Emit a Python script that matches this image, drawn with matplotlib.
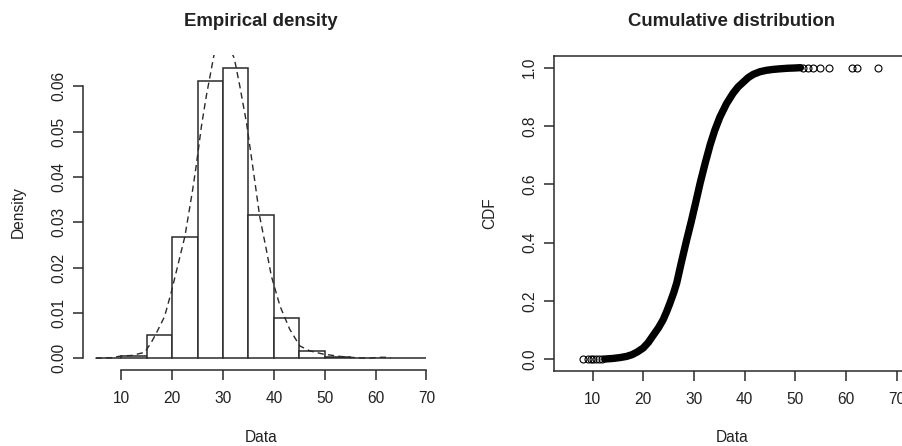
import numpy as np
import matplotlib
matplotlib.use("Agg")
import matplotlib.pyplot as plt

plt.rcParams['font.family'] = ['Liberation Sans', 'DejaVu Sans']

# histogram (density, bins of width 5)
bin_edges = [5, 10, 15, 20, 25, 30, 35, 40, 45, 50, 55, 60, 65, 70]
hist_density = [0.0001, 0.0004, 0.0052, 0.0267, 0.0612, 0.0641, 0.0316,
                0.0088, 0.0015, 0.0002, 0.00005, 0.0001, 0.00005]

# dashed empirical density curve
dens_x = [4.9, 8.0, 10.0, 12.0, 14.6, 15.9, 17.0, 18.5, 19.8, 21.0, 22.5, 24.0, 24.8,
          25.75, 26.7, 28.2, 30.2, 32.2, 33.3, 34.6, 36.0, 37.2, 38.5, 39.5, 41.2,
          43.1, 45.1, 47.1, 49.7, 53.0, 56.3, 58.5, 60.8, 62.2, 63.0]
dens_y = [0.0000, 0.0001, 0.0005, 0.0006, 0.0013, 0.0035, 0.0058, 0.0092, 0.0145,
          0.0200, 0.0269, 0.0370, 0.0431, 0.0512, 0.0578, 0.0668, 0.0710, 0.0662,
          0.0600, 0.0520, 0.0410, 0.0313, 0.0240, 0.0181, 0.0115, 0.0064, 0.0027,
          0.0016, 0.0009, 0.0004, 0.0001, 0.0000, 0.0002, 0.0002, 0.0000]

# CDF: dense body and the isolated points at both tails
cdf_x = [12.4, 14.0, 15.4, 16.7, 17.8, 18.8, 20.0, 21.0, 21.95, 23.0, 23.9, 24.6,
         25.25, 26.0, 26.6, 27.55, 28.5, 29.5, 30.4, 31.2, 32.2, 33.2, 34.1, 35.1,
         36.4, 37.7, 38.7, 39.7, 40.7, 41.7, 43.0, 44.3, 45.6, 46.9, 48.5, 50.0, 51.0]
cdf_y = [0.001, 0.003, 0.006, 0.010, 0.016, 0.025, 0.039, 0.058, 0.082, 0.108,
         0.135, 0.163, 0.192, 0.228, 0.262, 0.335, 0.405, 0.475, 0.542, 0.603,
         0.672, 0.736, 0.785, 0.830, 0.876, 0.912, 0.934, 0.950, 0.966, 0.977,
         0.986, 0.991, 0.994, 0.996, 0.998, 0.999, 1.0]
tail_x = [8.1, 9.1, 9.6, 10.1, 10.7, 11.3, 11.9,
          51.5, 52.5, 53.5, 54.8, 56.7, 61.1, 62.2, 66.2]
tail_y = [0.0, 0.0, 0.0, 0.0005, 0.0005, 0.001, 0.001,
          0.9992, 0.9994, 0.9996, 0.9997, 0.9998, 0.9999, 0.9999, 1.0]

W, H = 903, 446
fig = plt.figure(figsize=(W / 100, H / 100), dpi=100)
fig.patch.set_facecolor('white')

ink = '#2a2a2a'
fs = 11.2


def fx(px):
    return px / W


def fy(py):
    return 1 - py / H


# ---------------- left: empirical density ----------------
ax1 = fig.add_axes([fx(82.7), fy(370), fx(439.7 - 82.7), (370 - 54.5) / H])
widths = np.diff(bin_edges)
ax1.bar(bin_edges[:-1], hist_density, width=widths, align='edge',
        facecolor='white', edgecolor=ink, linewidth=1.1)
ax1.plot(dens_x, dens_y, color=ink, linestyle=(0, (4.5, 3)), linewidth=1.0)
ax1.set_xlim(2.4, 72.6)
ax1.set_ylim(-0.0026, 0.0670)
ax1.set_xticks([10, 20, 30, 40, 50, 60, 70])
ax1.set_yticks([0.00, 0.01, 0.02, 0.03, 0.04, 0.05, 0.06])
ax1.set_yticklabels(['0.00', '0.01', '0.02', '0.03', '0.04', '0.05', '0.06'],
                    rotation=90, va='center')
for s in ['top', 'right']:
    ax1.spines[s].set_visible(False)
ax1.spines['bottom'].set_bounds(10, 70)
ax1.spines['left'].set_bounds(0, 0.06)

# ---------------- right: cumulative distribution ----------------
ax2 = fig.add_axes([fx(554), fy(371), fx(910 - 554), (371 - 56) / H])
ax2.plot(cdf_x, cdf_y, color='black', linewidth=5.3, solid_capstyle='round',
         solid_joinstyle='round')
ax2.plot(tail_x, tail_y, linestyle='none', marker='o', markersize=5,
         markerfacecolor='none', markeredgecolor='black', markeredgewidth=0.8)
ax2.set_xlim(2.4, 72.6)
ax2.set_ylim(-0.04, 1.04)
ax2.set_xticks([10, 20, 30, 40, 50, 60, 70])
ax2.set_yticks([0.0, 0.2, 0.4, 0.6, 0.8, 1.0])
ax2.set_yticklabels(['0.0', '0.2', '0.4', '0.6', '0.8', '1.0'],
                    rotation=90, va='center')

for ax in (ax1, ax2):
    for s in ax.spines.values():
        s.set_color(ink)
        s.set_linewidth(1.1)
    ax.tick_params(axis='both', colors=ink, labelcolor='#222222',
                   labelsize=fs, length=7, width=1.1)
    ax.tick_params(axis='x', pad=8)
    ax.tick_params(axis='y', pad=5)
    ax.patch.set_alpha(0)

# titles and axis labels
fig.text(fx(261), fy(21), 'Empirical density', ha='center', va='center',
         fontsize=13.4, fontweight='bold', color='#222222')
fig.text(fx(732), fy(21), 'Cumulative distribution', ha='center', va='center',
         fontsize=13.4, fontweight='bold', color='#222222')
fig.text(fx(261), fy(437), 'Data', ha='center', va='center', fontsize=fs,
         color='#222222')
fig.text(fx(732), fy(437), 'Data', ha='center', va='center', fontsize=fs,
         color='#222222')
fig.text(fx(18), fy(212), 'Density', ha='center', va='center', rotation=90,
         fontsize=fs, color='#222222')
fig.text(fx(490), fy(213), 'CDF', ha='center', va='center', rotation=90,
         fontsize=fs, color='#222222')

fig.savefig('out.png', dpi=100)
